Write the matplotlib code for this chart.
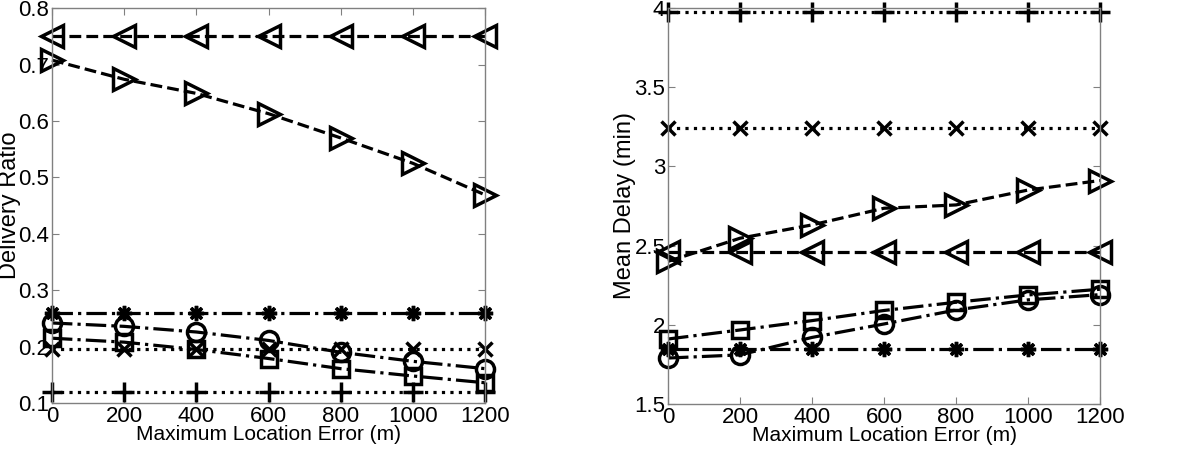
import matplotlib.pyplot as plt
from matplotlib.ticker import FixedLocator

plt.rcParams['font.family'] = ['Liberation Sans', 'DejaVu Sans']

x = [0, 200, 400, 600, 800, 1000, 1200]

# Delivery ratio (left panel)
dr_left_tri = [0.75, 0.75, 0.75, 0.75, 0.75, 0.75, 0.75]
dr_right_tri = [0.708, 0.674, 0.649, 0.613, 0.570, 0.525, 0.469]
dr_star = [0.26, 0.26, 0.26, 0.26, 0.26, 0.26, 0.26]
dr_circle = [0.242, 0.236, 0.226, 0.211, 0.190, 0.174, 0.161]
dr_square = [0.215, 0.208, 0.195, 0.179, 0.161, 0.148, 0.136]
dr_cross = [0.195, 0.195, 0.195, 0.195, 0.195, 0.195, 0.195]
dr_plus = [0.12, 0.12, 0.12, 0.12, 0.12, 0.12, 0.12]

# Mean delay in minutes (right panel)
md_plus = [3.975, 3.975, 3.975, 3.975, 3.975, 3.975, 3.975]
md_cross = [3.24, 3.24, 3.24, 3.24, 3.24, 3.24, 3.24]
md_right_tri = [2.40, 2.546, 2.63, 2.735, 2.756, 2.85, 2.91]
md_left_tri = [2.46, 2.46, 2.46, 2.46, 2.46, 2.46, 2.46]
md_square = [1.91, 1.967, 2.026, 2.09, 2.142, 2.188, 2.224]
md_circle = [1.79, 1.81, 1.92, 2.005, 2.093, 2.157, 2.19]
md_star = [1.847, 1.847, 1.847, 1.847, 1.847, 1.847, 1.847]

fig = plt.figure(figsize=(12, 4.57), dpi=100)
ax1 = fig.add_axes([0.0433, 0.118, 0.361, 0.864])
ax2 = fig.add_axes([0.5567, 0.116, 0.36, 0.867])

lw = 2.3
mew = 2.5
star = (8, 2, 0)


def series(ax, y, marker, ls, ms):
    ax.plot(x, y, color='black', linestyle=ls, linewidth=lw, marker=marker,
            markersize=ms, markeredgewidth=mew, markerfacecolor='none',
            markeredgecolor='black', clip_on=False)


series(ax1, dr_left_tri, '<', '--', 16)
series(ax1, dr_right_tri, '>', '--', 16)
series(ax1, dr_star, star, '-.', 11)
series(ax1, dr_circle, 'o', '-.', 13)
series(ax1, dr_square, 's', '-.', 11)
series(ax1, dr_cross, 'x', ':', 10)
series(ax1, dr_plus, '+', ':', 14)

series(ax2, md_plus, '+', ':', 14)
series(ax2, md_cross, 'x', ':', 10)
series(ax2, md_right_tri, '>', '--', 16)
series(ax2, md_left_tri, '<', '--', 16)
series(ax2, md_square, 's', '-.', 11)
series(ax2, md_circle, 'o', '-.', 13)
series(ax2, md_star, star, '-.', 11)

ax1.set_ylim(0.1, 0.8)
ax1.yaxis.set_major_locator(FixedLocator([0.1, 0.2, 0.3, 0.4, 0.5, 0.6, 0.7, 0.8]))
ax1.set_yticklabels(['0.1', '0.2', '0.3', '0.4', '0.5', '0.6', '0.7', '0.8'])
ax1.set_ylabel('Delivery Ratio', fontsize=17)
ax1.yaxis.set_label_coords(-0.072, 0.5)

ax2.set_ylim(1.5, 4)
ax2.yaxis.set_major_locator(FixedLocator([1.5, 2, 2.5, 3, 3.5, 4]))
ax2.set_yticklabels(['1.5', '2', '2.5', '3', '3.5', '4'])
ax2.set_ylabel('Mean Delay (min)', fontsize=17)
ax2.yaxis.set_label_coords(-0.074, 0.5)

for ax in (ax1, ax2):
    ax.set_xlim(0, 1200)
    ax.set_xticks(x)
    ax.set_xlabel('Maximum Location Error (m)', fontsize=15, labelpad=-1)
    ax.tick_params(direction='in', length=5, width=0.8, color='#808080',
                   labelsize=16, top=True, right=True, pad=2)
    for s in ax.spines.values():
        s.set_color('#808080')
        s.set_linewidth(1.0)

fig.savefig('out.png', dpi=100)
